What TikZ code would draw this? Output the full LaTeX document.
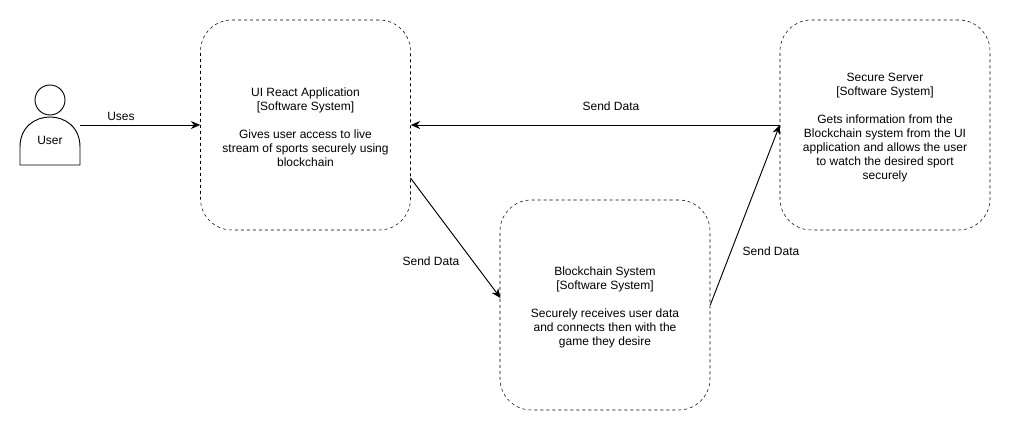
\documentclass[tikz,border=0pt]{standalone}
\usepackage{fontspec}
\usepackage{tikz}
\usetikzlibrary{arrows.meta}
\setmainfont{Liberation Sans}
\newcommand{\toppad}{\rule{0pt}{10.5pt}}
\tikzset{
  sysbox/.style={draw,dashed,dash pattern=on 2.25pt off 2.25pt,rounded corners=23.5pt,minimum width=157.5pt,minimum height=157.5pt,inner sep=0pt,align=center,font=\fontsize{9}{10.5}\selectfont},
  lbl/.style={font=\fontsize{9}{10.5}\selectfont},
  conn/.style={-{Stealth[length=7pt,width=6pt]},line width=0.7pt}
}
\begin{document}
\begin{tikzpicture}[x=0.75pt,y=-0.75pt]
\useasboundingbox (0,0) rectangle (1011,431);
% user
\draw[line width=0.7pt] (50,100) circle (11.25pt);
\draw[line width=0.7pt] (20,165) -- (20,147) .. controls (20,127) and (35,117) .. (50,117) .. controls (65,117) and (80,127) .. (80,147) -- (80,165) -- cycle;
\node[lbl] (user) at (50,140) {User};
\coordinate (userout) at (80,125);
% systems
\node[sysbox] (ui) at (305.5,125) {\toppad UI React Application\\{[Software System]}\\[10.5pt]Gives user access to live\\stream of sports securely using\\blockchain};
\node[sysbox] (chain) at (605,305) {\toppad Blockchain System\\{[Software System]}\\[10.5pt]Securely receives user data\\and connects then with the\\game they desire};
\node[sysbox] (server) at (885,125) {\toppad Secure Server\\{[Software System]}\\[10.5pt]Gets information from the\\Blockchain system from the UI\\application and allows the user\\to watch the desired sport\\securely};
\coordinate (uiout) at (410.5,178);
\coordinate (chainin) at (500.5,298);
% connectors
\draw[conn] (userout) -- (ui.west);
\draw[conn,{Stealth[length=7pt,width=6pt]}-] (ui.east) -- (server.west);
\draw[conn] (uiout) -- (chainin);
\draw[conn] (chain.east) -- (server.west);
% labels
\node[lbl] (uses) at (121,116) {Uses};
\node[lbl] (send1) at (611,106) {Send Data};
\node[lbl] (send2) at (431,261) {Send Data};
\node[lbl] (send3) at (771,251) {Send Data};
\end{tikzpicture}
\end{document}
